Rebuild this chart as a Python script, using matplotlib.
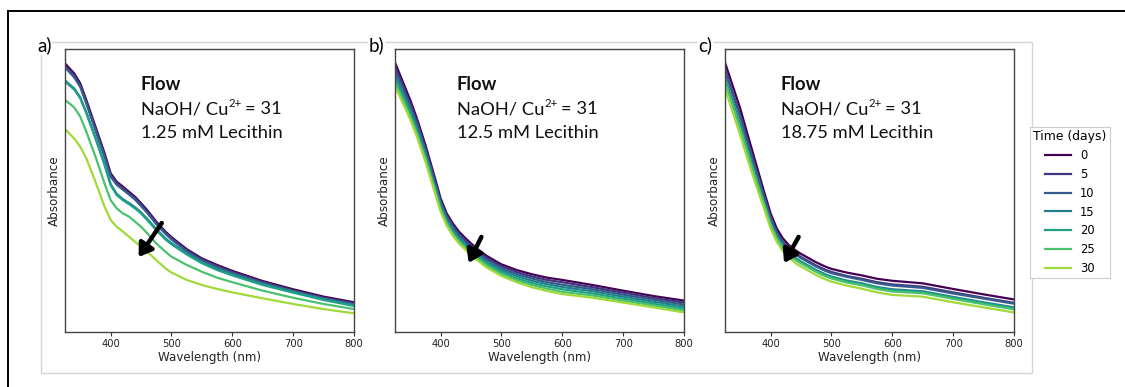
import matplotlib
matplotlib.use("Agg")
import matplotlib.pyplot as plt
from matplotlib.lines import Line2D
from matplotlib.patches import Rectangle

# ---------------- data ----------------
wavelength = [325, 340, 350, 360, 375, 390, 400, 410, 420, 430, 440, 450,
              460, 475, 490, 500, 525, 550, 575, 600, 650, 700, 750, 800]
days = [0, 5, 10, 15, 20, 25, 30]

# Panel a: 1.25 mM Lecithin (arbitrary absorbance units)
abs_a_0 = [0.949, 0.914, 0.879, 0.820, 0.726, 0.632, 0.561, 0.531, 0.514, 0.496, 0.478, 0.455,
           0.431, 0.390, 0.355, 0.335, 0.293, 0.260, 0.237, 0.216, 0.180, 0.151, 0.125, 0.105]
abs_a_5 = [0.942, 0.907, 0.872, 0.813, 0.719, 0.625, 0.555, 0.526, 0.509, 0.491, 0.473, 0.450,
           0.426, 0.386, 0.351, 0.331, 0.289, 0.256, 0.233, 0.212, 0.176, 0.147, 0.121, 0.101]
abs_a_10 = [0.935, 0.900, 0.866, 0.807, 0.713, 0.619, 0.549, 0.520, 0.503, 0.486, 0.468, 0.445,
            0.421, 0.381, 0.347, 0.327, 0.285, 0.252, 0.229, 0.208, 0.173, 0.144, 0.118, 0.098]
abs_a_15 = [0.889, 0.861, 0.830, 0.777, 0.688, 0.594, 0.523, 0.488, 0.470, 0.456, 0.441, 0.423,
            0.400, 0.364, 0.331, 0.314, 0.278, 0.247, 0.223, 0.204, 0.170, 0.143, 0.117, 0.096]
abs_a_20 = [0.885, 0.857, 0.826, 0.773, 0.684, 0.590, 0.519, 0.484, 0.466, 0.452, 0.437, 0.419,
            0.396, 0.360, 0.327, 0.310, 0.274, 0.243, 0.219, 0.200, 0.166, 0.139, 0.113, 0.092]
abs_a_25 = [0.820, 0.794, 0.761, 0.708, 0.620, 0.525, 0.466, 0.437, 0.419, 0.408, 0.390, 0.372,
            0.349, 0.313, 0.284, 0.266, 0.237, 0.213, 0.192, 0.176, 0.146, 0.121, 0.099, 0.081]
abs_a_30 = [0.717, 0.684, 0.655, 0.614, 0.531, 0.443, 0.396, 0.372, 0.355, 0.337, 0.319, 0.302,
            0.284, 0.254, 0.225, 0.210, 0.184, 0.166, 0.152, 0.140, 0.119, 0.099, 0.081, 0.066]

# Panel b: 12.5 mM Lecithin
abs_b_0 = [0.952, 0.873, 0.820, 0.761, 0.661, 0.549, 0.472, 0.419, 0.384, 0.355, 0.333, 0.313,
           0.294, 0.270, 0.251, 0.239, 0.219, 0.204, 0.192, 0.184, 0.166, 0.146, 0.127, 0.111]
abs_b_5 = [0.938, 0.861, 0.808, 0.750, 0.651, 0.540, 0.464, 0.412, 0.377, 0.348, 0.326, 0.306,
           0.287, 0.263, 0.244, 0.232, 0.212, 0.196, 0.184, 0.176, 0.158, 0.139, 0.120, 0.104]
abs_b_10 = [0.924, 0.848, 0.797, 0.739, 0.641, 0.531, 0.456, 0.405, 0.369, 0.341, 0.319, 0.299,
            0.281, 0.256, 0.237, 0.225, 0.205, 0.189, 0.176, 0.167, 0.151, 0.132, 0.114, 0.097]
abs_b_15 = [0.910, 0.836, 0.786, 0.729, 0.632, 0.523, 0.449, 0.398, 0.362, 0.334, 0.313, 0.293,
            0.274, 0.250, 0.231, 0.219, 0.198, 0.181, 0.169, 0.159, 0.144, 0.125, 0.107, 0.090]
abs_b_20 = [0.895, 0.824, 0.774, 0.718, 0.622, 0.514, 0.441, 0.390, 0.355, 0.327, 0.306, 0.286,
            0.267, 0.243, 0.224, 0.212, 0.190, 0.173, 0.161, 0.151, 0.136, 0.118, 0.100, 0.083]
abs_b_25 = [0.881, 0.811, 0.763, 0.707, 0.612, 0.505, 0.433, 0.383, 0.347, 0.320, 0.299, 0.279,
            0.261, 0.236, 0.217, 0.205, 0.183, 0.166, 0.153, 0.142, 0.129, 0.111, 0.094, 0.076]
abs_b_30 = [0.867, 0.799, 0.751, 0.696, 0.602, 0.496, 0.425, 0.376, 0.340, 0.313, 0.292, 0.272,
            0.254, 0.229, 0.210, 0.198, 0.176, 0.158, 0.145, 0.134, 0.121, 0.104, 0.087, 0.069]

# Panel c: 18.75 mM Lecithin
abs_c_0 = [0.952, 0.855, 0.790, 0.714, 0.602, 0.490, 0.419, 0.366, 0.331, 0.307, 0.290, 0.276,
           0.264, 0.246, 0.231, 0.223, 0.210, 0.200, 0.188, 0.181, 0.172, 0.152, 0.133, 0.115]
abs_c_5 = [0.929, 0.831, 0.766, 0.692, 0.583, 0.475, 0.406, 0.354, 0.320, 0.296, 0.279, 0.265,
           0.253, 0.235, 0.220, 0.212, 0.198, 0.188, 0.176, 0.168, 0.160, 0.140, 0.121, 0.103]
abs_c_10 = [0.922, 0.824, 0.759, 0.685, 0.577, 0.471, 0.402, 0.350, 0.316, 0.292, 0.275, 0.261,
            0.249, 0.231, 0.216, 0.208, 0.195, 0.184, 0.172, 0.164, 0.156, 0.136, 0.118, 0.100]
abs_c_15 = [0.897, 0.799, 0.734, 0.661, 0.556, 0.455, 0.387, 0.338, 0.304, 0.281, 0.263, 0.249,
            0.237, 0.219, 0.204, 0.196, 0.182, 0.172, 0.159, 0.151, 0.144, 0.124, 0.105, 0.087]
abs_c_20 = [0.891, 0.792, 0.727, 0.654, 0.550, 0.450, 0.383, 0.335, 0.301, 0.278, 0.260, 0.246,
            0.234, 0.216, 0.201, 0.193, 0.179, 0.169, 0.156, 0.147, 0.141, 0.121, 0.102, 0.084]
abs_c_25 = [0.884, 0.784, 0.719, 0.647, 0.544, 0.446, 0.379, 0.331, 0.297, 0.274, 0.256, 0.242,
            0.230, 0.212, 0.197, 0.189, 0.175, 0.165, 0.152, 0.143, 0.137, 0.117, 0.098, 0.080]
abs_c_30 = [0.861, 0.761, 0.696, 0.625, 0.525, 0.431, 0.366, 0.319, 0.286, 0.263, 0.245, 0.231,
            0.219, 0.201, 0.186, 0.178, 0.164, 0.153, 0.140, 0.131, 0.125, 0.105, 0.087, 0.069]

panels = [
    ("a)", "1.25 mM Lecithin", [abs_a_0, abs_a_5, abs_a_10, abs_a_15, abs_a_20, abs_a_25, abs_a_30]),
    ("b)", "12.5 mM Lecithin", [abs_b_0, abs_b_5, abs_b_10, abs_b_15, abs_b_20, abs_b_25, abs_b_30]),
    ("c)", "18.75 mM Lecithin", [abs_c_0, abs_c_5, abs_c_10, abs_c_15, abs_c_20, abs_c_25, abs_c_30]),
]
xticks = [400, 500, 600, 700, 800]

colors = ['#440154', '#46337f', '#365c8d', '#277f8e', '#1fa187', '#4ac16d', '#a0da39']

# ---------------- figure ----------------
W, H = 1125, 387
fig = plt.figure(figsize=(W / 100, H / 100), dpi=100)
renderer = fig.canvas.get_renderer()

def fx(px):
    return px / W

def fy(py):
    return 1 - py / H

# outer black frame (left and top visible)
fig.add_artist(Line2D([fx(8), fx(8)], [fy(11), 0], color='black', lw=1.4, transform=fig.transFigure))
fig.add_artist(Line2D([fx(8), 1], [fy(11), fy(11)], color='black', lw=1.4, transform=fig.transFigure))
# light gray panel frame
fig.add_artist(Rectangle((fx(41), fy(373)), fx(1032) - fx(41), fy(42) - fy(373), fill=False,
                         edgecolor='#d4d4d4', lw=1.0, transform=fig.transFigure))

ax_lefts = [65, 395, 725]
arrows = [((484, 0.385), (446, 0.265)), ((467, 0.336), (446, 0.244)), ((446, 0.336), (422, 0.244))]
label_x = [37, 369, 698]
text_x = [141, 457, 781]
TFS = 13.2
TFAM = 'Lato'


def put_text(xpix, ypix, s, **kw):
    t = fig.text(fx(xpix), fy(ypix), s, fontsize=kw.pop('fontsize', TFS), family=TFAM,
                 va='baseline', ha='left', color='#111111', **kw)
    bb = t.get_window_extent(renderer)
    return t, bb.x1  # right edge in pixels


handles = []
for i, (plab, lec, series) in enumerate(panels):
    left = ax_lefts[i]
    ax = fig.add_axes([fx(left), fy(332), fx(289), (332 - 49) / H])
    for j, ys in enumerate(series):
        ln, = ax.plot(wavelength, ys, color=colors[j], lw=1.6, label=str(days[j]))
        if i == 0:
            handles.append(ln)
    ax.set_xlim(325, 800)
    ax.set_ylim(0, 1.0)
    ax.set_xticks(xticks)
    ax.set_yticks([])
    ax.tick_params(axis='x', labelsize=7.2, length=3, width=0.8, pad=2, colors='#333333',
                   labelcolor='#222222')
    for s in ax.spines.values():
        s.set_color('#444444')
        s.set_linewidth(1.0)
    ax.set_xlabel("Wavelength (nm)", fontsize=8.6, labelpad=1.5, color='#222222')
    ax.set_ylabel("Absorbance", fontsize=8.6, labelpad=3, color='#222222')
    (tx, ty), (hx, hy) = arrows[i]
    ax.annotate('', xy=(hx, hy), xytext=(tx, ty),
                arrowprops=dict(arrowstyle='-|>,head_length=0.75,head_width=0.5', lw=3.2,
                                color='black', shrinkA=0, shrinkB=0))
    # text annotations
    x0 = text_x[i]
    put_text(x0, 90, "Flow", fontweight='bold')
    _, xr = put_text(x0, 114, "NaOH/ Cu")
    _, xr2 = put_text(xr + 0.5, 107, "2+", fontsize=TFS * 0.62)
    put_text(xr2 + 3, 114, "= 31")
    put_text(x0, 138, lec)
    fig.text(fx(label_x[i]), fy(45), plab, fontsize=13.5, family=TFAM, va='center', ha='left',
             color='black', bbox=dict(facecolor='white', edgecolor='none', pad=0.5))

leg = fig.legend(handles=handles, labels=[str(d) for d in days], title="Time (days)",
                 loc='upper left', bbox_to_anchor=(fx(1030), fy(127)), borderaxespad=0,
                 fontsize=8.3, title_fontsize=8.9, frameon=True, fancybox=False,
                 edgecolor='#cccccc', framealpha=1, handlelength=2.2, labelspacing=0.5,
                 handletextpad=0.8, borderpad=0.3)
leg.get_frame().set_linewidth(0.8)

fig.savefig("out.png", dpi=100, facecolor='white')
